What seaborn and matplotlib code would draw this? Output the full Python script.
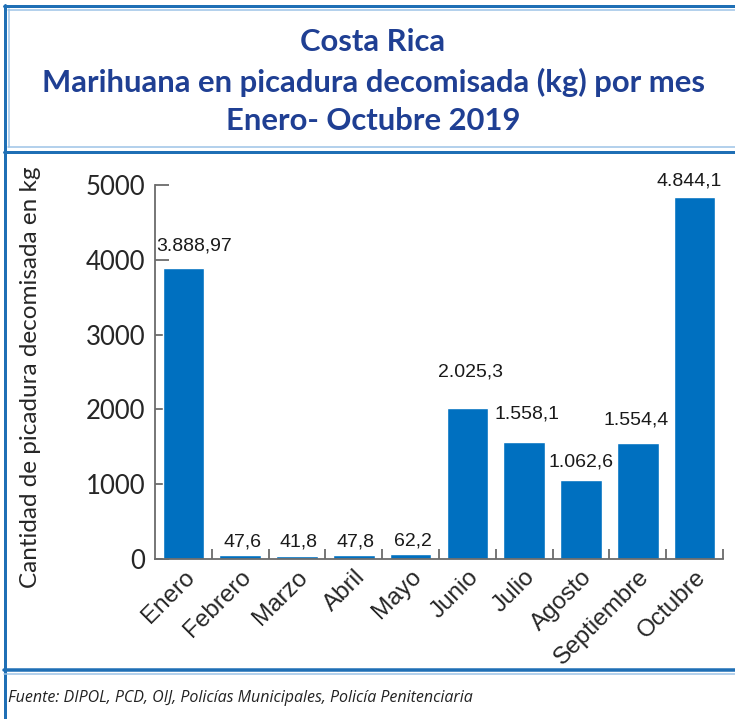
import numpy as np
import matplotlib
matplotlib.use("Agg")
import matplotlib.pyplot as plt
import seaborn as sns
from matplotlib.lines import Line2D

# Data
months = ["Enero", "Febrero", "Marzo", "Abril", "Mayo", "Junio",
          "Julio", "Agosto", "Septiembre", "Octubre"]
values = [3888.97, 47.6, 41.8, 47.8, 62.2, 2025.3, 1558.1, 1062.6, 1554.4, 4844.1]
value_labels = ["3.888,97", "47,6", "41,8", "47,8", "62,2", "2.025,3",
                "1.558,1", "1.062,6", "1.554,4", "4.844,1"]
# label offsets from the bar top (pixels), as placed in the original
label_gap = [14, 5, 5, 5, 5, 27, 20, 9, 14, 7]
label_dx = [11, 2, 2, 2, 2, 3, 3, 0, -2, -5]

W, H = 735, 719
bar_color = "#0070C0"
title_color = "#1F3F93"
frame_dark = "#1F6FB5"
frame_light = "#9CC3E6"
axis_grey = "#6B6B6B"

sns.set_style("white")
fig = plt.figure(figsize=(W / 100, H / 100), dpi=100)

ax = fig.add_axes([155 / W, 1 - 559 / H, (723 - 155) / W, (559 - 185) / H])
sns.barplot(x=months, y=values, color=bar_color, saturation=1, width=0.73, ax=ax)

ax.set_xlim(-0.5, 9.5)
ax.set_ylim(0, 5000)
ax.set_yticks([0, 1000, 2000, 3000, 4000, 5000])
ax.set_yticklabels(["0", "1000", "2000", "3000", "4000", "5000"],
                   fontsize=18.5, family="Lato")
ax.tick_params(axis="y", direction="in", length=10, width=1.3,
               color=axis_grey, pad=7, left=True)
ax.set_xticks(range(len(months)))
ax.set_xticklabels(months, rotation=45, ha="right", va="top",
                   rotation_mode="anchor", fontsize=17.5, family="Liberation Sans")
ax.tick_params(axis="x", length=0, pad=5)
ax.set_xticks(np.arange(0.5, 10, 1), minor=True)
ax.tick_params(axis="x", which="minor", direction="in", length=7,
               width=1.3, color=axis_grey, bottom=True)
ax.set_xlabel("")
ax.set_ylabel("")

for side in ["top", "right"]:
    ax.spines[side].set_visible(False)
for side in ["left", "bottom"]:
    ax.spines[side].set_color(axis_grey)
    ax.spines[side].set_linewidth(1.3)

# value labels
for i, (v, lab) in enumerate(zip(values, value_labels)):
    ax.annotate(lab, (i, v), xytext=(label_dx[i] * 0.72, label_gap[i] * 0.72),
                textcoords="offset points", ha="center", va="bottom",
                fontsize=14, family="Liberation Sans", color="#1a1a1a")

# y label
fig.text(31 / W, 1 - 377 / H, "Cantidad de picadura decomisada en kg",
         rotation=90, ha="center", va="center", fontsize=17.5, family="Lato")

# title
title_lines = ["Costa Rica", "Marihuana en picadura decomisada (kg) por mes",
               "Enero- Octubre 2019"]
for y, t in zip([42, 82, 121], title_lines):
    fig.text(373 / W, 1 - y / H, t, ha="center", va="center", fontsize=22.3,
             fontweight="bold", family="Lato", color=title_color)

# footer
fig.text(8 / W, 1 - 698 / H,
         "Fuente: DIPOL, PCD, OIJ, Policías Municipales, Policía Penitenciaria",
         ha="left", va="center", fontsize=11.5, style="italic",
         family="Open Sans", color="#222222")


# frame lines (pixel coords)
def hline(y, x0, x1, color, lw):
    fig.add_artist(Line2D([x0 / W, x1 / W], [1 - y / H, 1 - y / H],
                          transform=fig.transFigure, color=color, lw=lw * 0.72))


def vline(x, y0, y1, color, lw):
    fig.add_artist(Line2D([x / W, x / W], [1 - y0 / H, 1 - y1 / H],
                          transform=fig.transFigure, color=color, lw=lw * 0.72))


hline(6, 4, W, frame_dark, 3)
hline(10, 8, W, frame_light, 1.5)
vline(5, 5, H, frame_dark, 3)
vline(9, 9, 147, frame_light, 1.5)
hline(147, 8, W, frame_light, 1.5)
hline(152, 4, W, frame_dark, 3)
hline(670, 4, W, frame_dark, 3.5)
hline(674, 4, W, frame_light, 1.5)

fig.savefig("out.png", dpi=100)
